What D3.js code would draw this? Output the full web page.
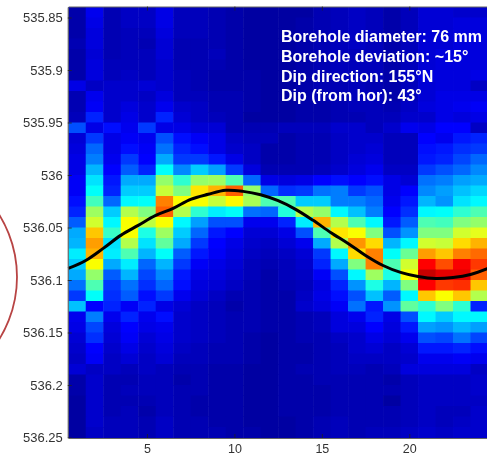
<!DOCTYPE html>
<html>
<head>
<meta charset="utf-8">
<script src="https://d3js.org/d3.v7.min.js"></script>
<style>
html, body { margin: 0; padding: 0; background: #fff; overflow: hidden; }
text { font-family: "Liberation Sans", Arial, sans-serif; }
</style>
</head>
<body>
<div id="chart"></div>
<script>
var columns = [1,2,3,4,5,6,7,8,9,10,11,12,13,14,15,16,17,18,19,20,21,22,23,24];

// amplitude per depth row (0-100), top row first
var amplitude = [
  [5,13,6,8,8,12,7,7,6,5,4,4,4,4,6,7,8,7,5,7,10,10,9,9],
  [5,12,6,8,8,12,7,7,6,5,4,4,4,5,6,7,8,7,5,7,10,10,11,11],
  [5,11,6,7,7,11,7,7,6,5,4,4,4,5,6,7,8,7,5,7,10,10,11,11],
  [6,11,6,7,6,10,6,6,6,5,4,4,4,5,6,7,8,7,5,7,10,10,11,11],
  [5,10,6,7,7,10,6,6,7,5,4,4,4,5,6,7,7,7,5,7,10,11,11,11],
  [5,11,7,7,7,9,6,6,6,5,4,4,4,5,6,7,7,7,5,7,10,11,11,11],
  [5,11,7,8,7,9,7,6,5,5,5,4,4,5,6,7,7,7,5,8,11,11,11,12],
  [12,8,9,9,10,9,7,6,5,5,5,4,4,5,6,6,7,6,5,7,10,11,11,8],
  [6,13,9,9,8,11,7,7,6,6,5,4,4,5,6,6,7,7,5,7,10,12,12,12],
  [6,14,9,11,9,13,9,8,6,6,5,4,4,5,5,6,7,7,6,8,11,12,13,14],
  [7,18,9,12,9,18,10,8,7,6,4,4,4,5,5,6,6,7,7,9,9,12,11,12],
  [22,12,16,13,20,12,12,10,10,6,6,6,7,7,7,9,9,7,9,13,12,15,15,8],
  [10,20,12,14,13,22,16,14,12,8,7,7,5,6,6,8,9,9,7,7,15,13,17,18],
  [11,24,12,16,14,25,18,16,12,9,8,5,5,6,6,8,9,10,7,7,16,17,19,20],
  [12,26,13,20,15,30,20,20,17,12,8,5,5,6,6,8,10,11,7,7,17,18,21,24],
  [12,31,15,23,18,38,27,33,29,20,11,6,6,6,7,9,11,13,8,8,20,22,24,27],
  [14,35,17,30,30,52,42,52,53,45,24,12,11,12,15,16,15,16,12,10,25,26,29,30],
  [14,38,18,33,33,57,50,65,70,78,52,24,19,20,25,26,20,22,12,15,27,29,32,34],
  [16,44,24,37,38,75,62,62,57,63,54,45,45,33,33,26,26,24,13,17,31,28,35,37],
  [18,53,33,55,50,78,55,42,36,38,25,24,41,55,52,37,32,26,15,19,37,38,42,45],
  [23,58,37,62,56,62,37,29,22,22,13,13,18,36,70,55,45,37,17,23,45,44,50,52],
  [30,68,43,62,40,53,33,24,17,15,10,10,12,22,45,65,62,50,22,28,50,50,58,60],
  [31,72,35,55,35,47,30,20,15,12,9,8,10,13,30,55,73,66,31,37,58,57,66,70],
  [36,70,36,45,31,38,23,17,14,11,8,7,8,10,20,37,66,75,38,48,72,68,75,77],
  [33,62,30,36,24,31,20,14,12,10,7,6,7,9,18,30,50,75,45,58,87,80,88,82],
  [30,52,23,31,21,27,17,12,11,9,7,5,7,8,14,22,37,53,40,62,93,90,90,78],
  [25,45,20,25,19,24,16,11,10,8,6,5,6,7,11,18,28,40,31,50,87,82,83,68],
  [20,38,19,23,16,20,13,10,8,6,6,5,5,8,12,16,22,32,23,37,68,62,68,55],
  [32,15,18,14,18,12,10,8,7,5,6,5,5,9,11,14,25,17,28,47,42,50,42,18],
  [13,26,13,18,13,16,9,8,7,6,6,5,5,6,7,11,13,18,12,22,37,33,37,37],
  [12,21,11,15,12,13,9,8,7,6,6,5,5,6,7,11,11,15,11,17,29,28,31,29],
  [10,19,10,14,10,12,9,8,7,6,5,4,5,6,6,8,9,12,10,13,22,21,25,21],
  [9,15,9,12,9,11,8,7,6,6,5,4,5,5,6,7,9,10,8,10,17,17,18,16],
  [8,14,8,10,8,10,7,7,6,6,5,4,5,5,6,7,8,8,8,9,13,13,14,13],
  [10,8,8,7,8,7,6,6,5,5,4,4,5,6,6,7,7,6,7,11,11,11,11,8],
  [5,9,6,6,7,7,5,6,5,5,4,4,5,5,6,6,6,6,5,7,8,8,8,9],
  [5,9,6,7,7,7,6,6,5,5,4,4,5,5,5,6,6,6,6,7,8,8,8,9],
  [4,9,6,6,6,7,6,5,5,5,4,4,5,5,5,6,6,6,4,7,8,8,8,8],
  [4,9,6,7,5,7,6,5,5,5,4,4,5,5,5,6,6,6,6,7,8,7,7,9],
  [4,9,7,7,6,8,6,6,5,5,4,4,4,5,6,7,6,6,6,7,8,7,8,9],
  [4,8,7,7,6,8,6,6,6,5,5,4,4,5,6,7,6,7,7,8,9,8,9,9]
];

// black picked reflector line
var traceX = [0.5,1.5,2.5,3.5,4.5,5.5,6.5,7.5,8.5,9.5,10.5,11.5,12.5,13.5,14.5,15.5,16.5,17.5,18.5,19.5,20.5,21.5,22.5,23.5,24.5];
var traceDepth = [536.089,536.0814,536.0699,536.0575,536.048,536.0385,536.0318,536.0232,536.0184,536.0146,536.0156,536.0188,536.0245,536.0327,536.0432,536.0547,536.0652,536.0766,536.0862,536.0928,536.0967,536.0986,536.0976,536.0947,536.089];

var depthTicks = [535.85,535.9,535.95,536,536.05,536.1,536.15,536.2,536.25];
var depthLabels = ["535.85","535.9","535.95","536","536.05","536.1","536.15","536.2","536.25"];
var columnTicks = [5,10,15,20];

var notes = ["Borehole diameter: 76 mm","Borehole deviation: ~15\u00b0","Dip direction: 155\u00b0N","Dip (from hor): 43\u00b0"];

var width = 487, height = 456;
var left = 68.25, right = 488, top_ = 7, bottom = 437.5;

var svg = d3.select("#chart").append("svg")
    .attr("width", width)
    .attr("height", height)
    .style("display", "block");

var defs = svg.append("defs");
defs.append("filter").attr("id", "soft")
    .attr("x", "-2%").attr("y", "-2%").attr("width", "104%").attr("height", "104%")
    .append("feGaussianBlur").attr("stdDeviation", 0.55);
defs.append("filter").attr("id", "softText")
    .append("feGaussianBlur").attr("stdDeviation", 0.3);

//scales
var x_band = d3.scaleBand().domain(columns).range([left, right]);
var y_band = d3.scaleBand().domain(d3.range(amplitude.length)).range([top_, bottom]);
var x = d3.scaleLinear().domain([0.5, 24.5]).range([left, right]);
var y = d3.scaleLinear().domain([535.84, 536.25]).range([top_, bottom]);

// matlab jet, low end stretched a bit to match the darker blues
var jet = d3.scaleLinear()
    .domain([0, 15, 37.5, 62.5, 87.5, 100])
    .range(["#000080", "#0000ff", "#00ffff", "#ffff00", "#ff0000", "#800000"])
    .clamp(true);

//heat cells
var cells = svg.append("g").attr("class", "cells").attr("filter", "url(#soft)");
amplitude.forEach(function (row, i) {
    cells.selectAll(".r" + i)
        .data(row)
        .enter().append("rect")
        .attr("class", "r" + i)
        .attr("x", function (d, j) { return x_band(columns[j]); })
        .attr("y", y_band(i))
        .attr("width", x_band.bandwidth() + 0.5)
        .attr("height", y_band.bandwidth() + 0.5)
        .attr("fill", function (d) { return jet(d); });
});

//trace
var line = d3.line()
    .x(function (d, i) { return x(traceX[i]); })
    .y(function (d) { return y(d); })
    .curve(d3.curveCatmullRom);

svg.append("path")
    .datum(traceDepth)
    .attr("d", line)
    .attr("fill", "none")
    .attr("stroke", "#000")
    .attr("stroke-width", 3)
    .attr("filter", "url(#softText)");

//axes
var yAxis = d3.axisLeft(y)
    .tickValues(depthTicks)
    .tickFormat(function (d, i) { return depthLabels[i]; })
    .tickSizeInner(-4)
    .tickSizeOuter(0)
    .tickPadding(5);
var xAxis = d3.axisBottom(x)
    .tickValues(columnTicks)
    .tickSizeInner(-4)
    .tickSizeOuter(0)
    .tickPadding(6.3);

var yg = svg.append("g").attr("transform", "translate(" + (left - 0.5) + ",0)").call(yAxis);
var xg = svg.append("g").attr("transform", "translate(0," + (bottom + 0.5) + ")").call(xAxis);

svg.append("g").attr("transform", "translate(0," + (top_ - 0.5) + ")")
    .call(d3.axisTop(x).tickValues(columnTicks).tickSizeInner(-4).tickSizeOuter(0).tickFormat(""));

yg.selectAll("text").attr("font-size", 13);
xg.selectAll("text").attr("font-size", 12.5);
[yg, xg].forEach(function (g) {
    g.selectAll("text")
        .attr("fill", "#333")
        .attr("filter", "url(#softText)")
        .style("font-family", "'Liberation Sans', Arial, sans-serif");
});
svg.selectAll(".domain").attr("stroke", "#666").attr("stroke-width", 1.2);
svg.selectAll(".tick line").attr("stroke", "#222").attr("stroke-width", 0.8);

//borehole notes
var noteBase = [41.5, 61.5, 81.5, 101];
svg.append("g").selectAll("text")
    .data(notes)
    .enter().append("text")
    .attr("x", 281)
    .attr("y", function (d, i) { return noteBase[i]; })
    .attr("font-size", 16)
    .attr("font-weight", "bold")
    .attr("fill", "#fff")
    .attr("filter", "url(#softText)")
    .text(function (d) { return d; });

// red circle from the neighbouring panel, only its right edge shows
svg.append("circle")
    .attr("cx", -101)
    .attr("cy", 277)
    .attr("r", 118)
    .attr("fill", "none")
    .attr("stroke", "#b84444")
    .attr("stroke-width", 1.8);
</script>
</body>
</html>
